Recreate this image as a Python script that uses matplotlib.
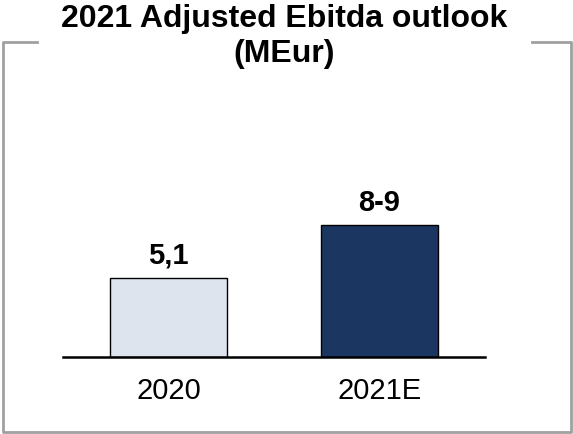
import matplotlib.pyplot as plt
from matplotlib.lines import Line2D

categories = ['2020', '2021E']
values = [5.1, 8.5]
value_labels = ['5,1', '8-9']
bar_colors = ['#dde4ee', '#1a3661']

plt.rcParams['font.family'] = ['Liberation Sans', 'DejaVu Sans']

W, H = 573, 435
fig = plt.figure(figsize=(W / 100, H / 100), dpi=100)

# axes placed so the baseline runs from x=63 to 485 at y=358
ax = fig.add_axes([63 / W, 77 / H, 422 / W, 155 / H])
x = range(len(categories))
ax.bar(x, values, width=0.555, color=bar_colors, edgecolor='black', linewidth=1)
for xi, v, lab in zip(x, values, value_labels):
    ax.annotate(lab, (xi, v), xytext=(0, 7), textcoords='offset points',
                ha='center', va='bottom', fontsize=21, fontweight='bold')
ax.set_xlim(-0.5, 1.5)
ax.set_ylim(0, 10)
ax.set_xticks(list(x))
ax.set_xticklabels(categories, fontsize=21)
ax.tick_params(axis='x', length=0, pad=14)
ax.set_yticks([])
for s in ['top', 'right', 'left']:
    ax.spines[s].set_visible(False)
ax.spines['bottom'].set_linewidth(1.8)

# frame around the chart, broken at the top for the title
def px(xs, ys):
    return [v / W for v in xs], [1 - v / H for v in ys]

gray = '#a0a0a0'
fx, fy = px([37, 3, 3, 571, 571, 532], [43, 43, 433, 433, 43, 43])
fig.add_artist(Line2D(fx, fy, color=gray, linewidth=2, transform=fig.transFigure))

fig.text(284 / W, 1 - 4 / H, '2021 Adjusted Ebitda outlook\n(MEur)', ha='center', va='top',
         fontsize=23, fontweight='bold', linespacing=1.2)

fig.savefig('out.png', dpi=100)
